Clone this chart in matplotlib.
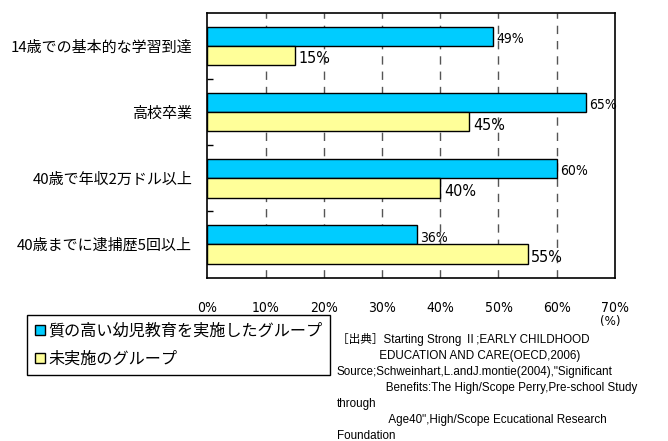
import matplotlib
matplotlib.use("Agg")
import matplotlib.pyplot as plt
from matplotlib import font_manager
from matplotlib.lines import Line2D

# narrow latin face for the numbers, CJK face for the Japanese text
names = {f.name for f in font_manager.fontManager.ttflist}
narrow = "Liberation Sans Narrow" if "Liberation Sans Narrow" in names else "DejaVu Sans"
jp = "Noto Sans CJK JP"

categories = ["14歳での基本的な学習到達", "高校卒業", "40歳で年収2万ドル以上", "40歳までに逮捕歴5回以上"]
program_group = [49, 65, 60, 36]
no_program_group = [15, 45, 40, 55]
series_names = ["質の高い幼児教育を実施したグループ", "未実施のグループ"]
x_ticks = [0, 10, 20, 30, 40, 50, 60, 70]

source_lines = [
    "［出典］Starting Strong Ⅱ;EARLY CHILDHOOD",
    " " * 13 + "EDUCATION AND CARE(OECD,2006)",
    "Source;Schweinhart,L.andJ.montie(2004),\"Significant",
    " " * 15 + "Benefits:The High/Scope Perry,Pre-school Study",
    "through",
    " " * 16 + "Age40\",High/Scope Ecucational Research",
    "Foundation",
]

blue = "#00ccff"
yellow = "#ffff99"

fig = plt.figure(figsize=(6.68, 4.41), dpi=100)
ax = fig.add_axes([0.3106, 0.3707, 0.6099, 0.5998])

h = 0.29
ypos = list(range(len(categories)))
ax.barh([y - h / 2 for y in ypos], program_group, height=h, color=blue,
        edgecolor="black", linewidth=1, zorder=3)
ax.barh([y + h / 2 for y in ypos], no_program_group, height=h, color=yellow,
        edgecolor="black", linewidth=1, zorder=3)

for y, v in zip(ypos, program_group):
    ax.text(v + 0.6, y - h / 2 + 0.04, f"{v}%", va="center", ha="left",
            fontsize=10, family=narrow, fontstretch="condensed", zorder=4)
for y, v in zip(ypos, no_program_group):
    ax.text(v + 0.6, y + h / 2 + 0.05, f"{v}%", va="center", ha="left",
            fontsize=11.5, family=narrow, fontstretch="condensed", zorder=4)

ax.set_xlim(0, 70)
ax.set_ylim(3.5, -0.5)

# dashed verticals at every 10%
for t in x_ticks[1:-1]:
    ax.axvline(t, color="#555555", linewidth=1, linestyle=(0, (6, 5)), zorder=1)

ax.set_xticks(x_ticks)
ax.set_xticklabels([f"{t}%" for t in x_ticks], family=narrow,
                   fontstretch="condensed", fontsize=10)
ax.tick_params(axis="x", length=0, pad=17)

ax.set_yticks(ypos)
ax.set_yticklabels(categories, family=[jp, "DejaVu Sans"], fontsize=10.8)
ax.set_yticks([0.5, 1.5, 2.5], minor=True)
ax.tick_params(axis="y", which="major", length=0, pad=11)
ax.tick_params(axis="y", which="minor", direction="in", length=4, width=1)

for s in ax.spines.values():
    s.set_linewidth(1.2)
    s.set_color("black")

fig.text(610 / 668, 1 - 322 / 441, "(%)", ha="center", va="center",
         family=narrow, fontstretch="condensed", fontsize=9.5)

handles = [
    Line2D([], [], linestyle="none", marker="s", markersize=7,
           markerfacecolor=blue, markeredgecolor="black", markeredgewidth=1),
    Line2D([], [], linestyle="none", marker="s", markersize=7,
           markerfacecolor=yellow, markeredgecolor="black", markeredgewidth=1),
]
leg = fig.legend(handles, series_names, loc="upper left",
                 bbox_to_anchor=(27 / 668, 1 - 315 / 441),
                 prop={"family": [jp, "DejaVu Sans"], "size": 11.6},
                 fancybox=False, framealpha=1, edgecolor="black",
                 handlelength=0.7, handletextpad=0.2, borderpad=0.45,
                 labelspacing=0.72, borderaxespad=0)
leg.get_frame().set_linewidth(1)

# source note, one line at a time
y0 = 1 - 340 / 441
step = 16 / 441
for i, line in enumerate(source_lines):
    fig.text(337 / 668, y0 - i * step, line, ha="left", va="center",
             family=["Liberation Sans", jp], fontsize=8.4)

fig.savefig("out.png", dpi=100)
